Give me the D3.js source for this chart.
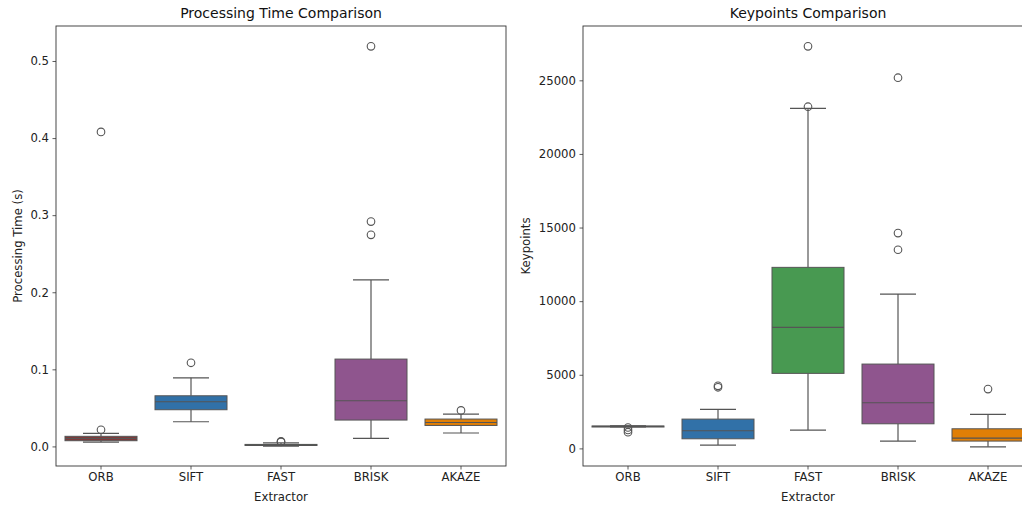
<!DOCTYPE html>
<html>
<head>
<meta charset="utf-8">
<script src="https://cdn.jsdelivr.net/npm/d3@7"></script>
<style>
  body { margin: 0; background: #fff; }
  svg { font-family: "DejaVu Sans", sans-serif; }
</style>
</head>
<body>
<script>
// extractors and their colours
const extractors = ["ORB", "SIFT", "FAST", "BRISK", "AKAZE"];
const boxColors = ["#7d3b3b", "#3171a8", "#489951", "#8f558e", "#e07f06"];

// processing time (s): box stats
const timeLo = [0.0057, 0.032, 0.0005, 0.0104, 0.0174];
const timeQ1 = [0.0074, 0.0476, 0.0012, 0.0342, 0.0272];
const timeMed = [0.0102, 0.058, 0.0018, 0.0592, 0.031];
const timeQ3 = [0.0131, 0.0657, 0.0026, 0.1133, 0.0355];
const timeHi = [0.0169, 0.089, 0.0045, 0.216, 0.042];
const timeOut = [[0.0216, 0.408], [0.1085], [0.0058, 0.0065], [0.2745, 0.2917, 0.519], [0.0467]];
const timeTicks = [0.0, 0.1, 0.2, 0.3, 0.4, 0.5];

// keypoints: box stats
const kpLo = [1460, 224, 1243, 496, 109];
const kpQ1 = [1480, 652, 5095, 1671, 496];
const kpMed = [1500, 1196, 8220, 3098, 700];
const kpQ3 = [1520, 1990, 12296, 5727, 1332];
const kpHi = [1530, 2650, 23098, 10482, 2310];
const kpOut = [[1100, 1250, 1420], [4150, 4250], [23207, 27310], [13492, 14626, 25177], [4028]];
const kpTicks = [0, 5000, 10000, 15000, 20000, 25000];

const svg = d3.select("body").append("svg")
  .attr("width", 1022)
  .attr("height", 507);

const lineColor = "#555";

function boxPanel(opts) {
  const { left, top, width, height, title, ylabel, lo, q1, med, q3, hi, out, ticks, fmt, domain } = opts;

  const g = svg.append("g").attr("transform", `translate(${left},${top})`);

  const x = d3.scaleBand().domain(extractors).range([0, width]).padding(0);
  const y = d3.scaleLinear().domain(domain).range([height, 0]);
  const bw = x.bandwidth() * 0.8;

  const rows = extractors.map((name, i) => ({
    name, color: boxColors[i],
    lo: lo[i], q1: q1[i], med: med[i], q3: q3[i], hi: hi[i], out: out[i]
  }));

  const cell = g.selectAll("g.box").data(rows).join("g")
    .attr("class", "box")
    .attr("transform", d => `translate(${x(d.name) + x.bandwidth() / 2},0)`);

  // whiskers
  cell.append("line")
    .attr("y1", d => y(d.q3)).attr("y2", d => y(d.hi))
    .attr("stroke", lineColor).attr("stroke-width", 1.2);
  cell.append("line")
    .attr("y1", d => y(d.q1)).attr("y2", d => y(d.lo))
    .attr("stroke", lineColor).attr("stroke-width", 1.2);
  // caps
  [d => d.hi, d => d.lo].forEach(f => {
    cell.append("line")
      .attr("x1", -bw / 4).attr("x2", bw / 4)
      .attr("y1", d => y(f(d))).attr("y2", d => y(f(d)))
      .attr("stroke", lineColor).attr("stroke-width", 1.2);
  });

  // boxes
  cell.append("rect")
    .attr("x", -bw / 2).attr("width", bw)
    .attr("y", d => y(d.q3))
    .attr("height", d => Math.max(y(d.q1) - y(d.q3), 1))
    .attr("fill", d => d.color)
    .attr("stroke", lineColor).attr("stroke-width", 1);

  // medians
  cell.append("line")
    .attr("x1", -bw / 2).attr("x2", bw / 2)
    .attr("y1", d => y(d.med)).attr("y2", d => y(d.med))
    .attr("stroke", lineColor).attr("stroke-width", 1.1);

  // fliers
  cell.selectAll("circle").data(d => d.out).join("circle")
    .attr("cx", 0).attr("cy", v => y(v)).attr("r", 3.8)
    .attr("fill", "none").attr("stroke", lineColor).attr("stroke-width", 1.1);

  // axes
  const xAxis = g.append("g").attr("transform", `translate(0,${height})`)
    .call(d3.axisBottom(x).tickSize(3.5).tickPadding(3.5));
  const yAxis = g.append("g")
    .call(d3.axisLeft(y).tickValues(ticks).tickFormat(fmt).tickSize(3.5).tickPadding(3.5));
  [xAxis, yAxis].forEach(a => {
    a.select(".domain").remove();
    a.selectAll("line").attr("stroke", "#333").attr("stroke-width", 0.8);
    a.selectAll("text").attr("font-size", 11.7).attr("fill", "#222")
      .attr("font-family", "DejaVu Sans, sans-serif");
  });

  // frame
  g.append("rect")
    .attr("width", width).attr("height", height)
    .attr("fill", "none").attr("stroke", "#333").attr("stroke-width", 0.9);

  g.append("text")
    .attr("x", width / 2).attr("y", -8)
    .attr("text-anchor", "middle").attr("font-size", 14).attr("fill", "#111")
    .text(title);

  g.append("text")
    .attr("x", width / 2).attr("y", height + 34.5)
    .attr("text-anchor", "middle").attr("font-size", 11.7).attr("fill", "#222")
    .text("Extractor");

  g.append("text")
    .attr("transform", `translate(${opts.ylabelX},${height / 2}) rotate(-90)`)
    .attr("text-anchor", "middle").attr("font-size", 11.7).attr("fill", "#222")
    .text(ylabel);
}

boxPanel({
  left: 56, top: 26, width: 450, height: 440,
  title: "Processing Time Comparison", ylabel: "Processing Time (s)", ylabelX: -34,
  lo: timeLo, q1: timeQ1, med: timeMed, q3: timeQ3, hi: timeHi, out: timeOut,
  ticks: timeTicks, fmt: d3.format(".1f"), domain: [-0.0254, 0.5454]
});

boxPanel({
  left: 583, top: 26, width: 450, height: 440,
  title: "Keypoints Comparison", ylabel: "Keypoints", ylabelX: -53,
  lo: kpLo, q1: kpQ1, med: kpMed, q3: kpQ3, hi: kpHi, out: kpOut,
  ticks: kpTicks, fmt: d3.format("d"), domain: [-1196, 28689]
});
</script>
</body>
</html>
